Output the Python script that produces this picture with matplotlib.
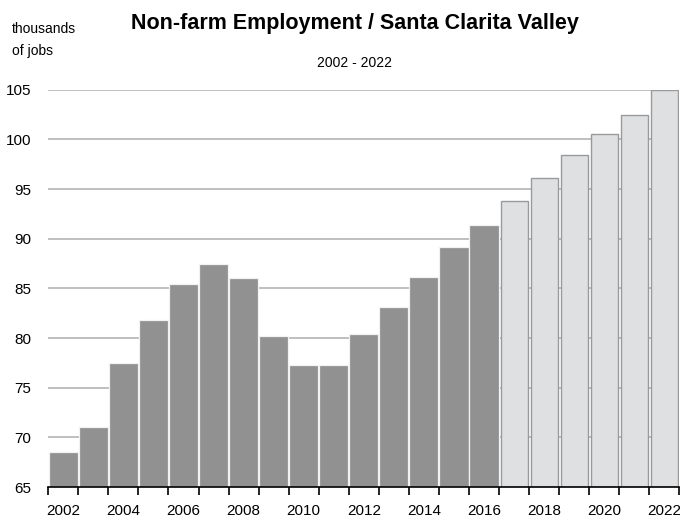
import matplotlib
matplotlib.use("Agg")
import matplotlib.pyplot as plt
from matplotlib import font_manager

years = list(range(2002, 2023))
jobs = [68.5, 71.0, 77.5, 81.8, 85.4, 87.5, 86.0, 80.2, 77.3, 77.3, 80.4,
        83.1, 86.1, 89.2, 91.4, 93.8, 96.1, 98.4, 100.5, 102.5, 105.0]
last_actual = 2016
tick_years = list(range(2002, 2023, 2))
y_ticks = [65, 70, 75, 80, 85, 90, 95, 100, 105]

names = {f.name for f in font_manager.fontManager.ttflist}
narrow = "Liberation Sans Narrow" if "Liberation Sans Narrow" in names else "Liberation Sans"
plt.rcParams["font.family"] = [narrow, "DejaVu Sans"]

fig = plt.figure(figsize=(6.8, 5.22), dpi=100)
ax = fig.add_axes([0.071, 0.067, 0.928, 0.761])

x = list(range(len(years)))
actual = [i for i, y in enumerate(years) if y <= last_actual]
proj = [i for i, y in enumerate(years) if y > last_actual]
ax.bar(actual, [jobs[i] - 65 for i in actual], bottom=65, width=0.97,
       color="#919191", edgecolor="#f2f2f2", linewidth=0.9, zorder=3)
ax.bar(proj, [jobs[i] - 65 for i in proj], bottom=65, width=0.9,
       color="#dee0e1", edgecolor="#9a9a9a", linewidth=1.0, zorder=3)

ax.set_xlim(-0.5, len(years) - 0.5)
ax.set_ylim(65, 105)
ax.set_yticks(y_ticks)
ax.set_yticklabels([str(v) for v in y_ticks], fontsize=11)
ax.tick_params(axis="y", length=0, pad=12)
ax.yaxis.grid(True, color="#b4b4b4", linewidth=1.2, zorder=0)

# ticks at bar boundaries, labels centred under every other bar
ax.set_xticks([i - 0.5 for i in range(len(years) + 1)])
ax.set_xticklabels([])
ax.set_xticks([years.index(y) for y in tick_years], minor=True)
ax.set_xticklabels([str(y) for y in tick_years], minor=True, fontsize=11)
ax.tick_params(axis="x", which="major", length=6, width=1.2, color="black", direction="out")
ax.tick_params(axis="x", which="minor", length=0, pad=12)

for s in ["top", "right", "left"]:
    ax.spines[s].set_visible(False)
ax.spines["bottom"].set_color("black")
ax.spines["bottom"].set_linewidth(1.2)
ax.spines["bottom"].set_zorder(4)

fig.text(0.522, 0.955, "Non-farm Employment / Santa Clarita Valley", ha="center",
         va="center", fontsize=15.5, fontweight="bold")
fig.text(0.522, 0.88, "2002 - 2022", ha="center", va="center", fontsize=10)
fig.text(0.018, 0.944, "thousands", ha="left", va="center", fontsize=10)
fig.text(0.018, 0.902, "of jobs", ha="left", va="center", fontsize=10)

fig.savefig("out.png", dpi=100)
